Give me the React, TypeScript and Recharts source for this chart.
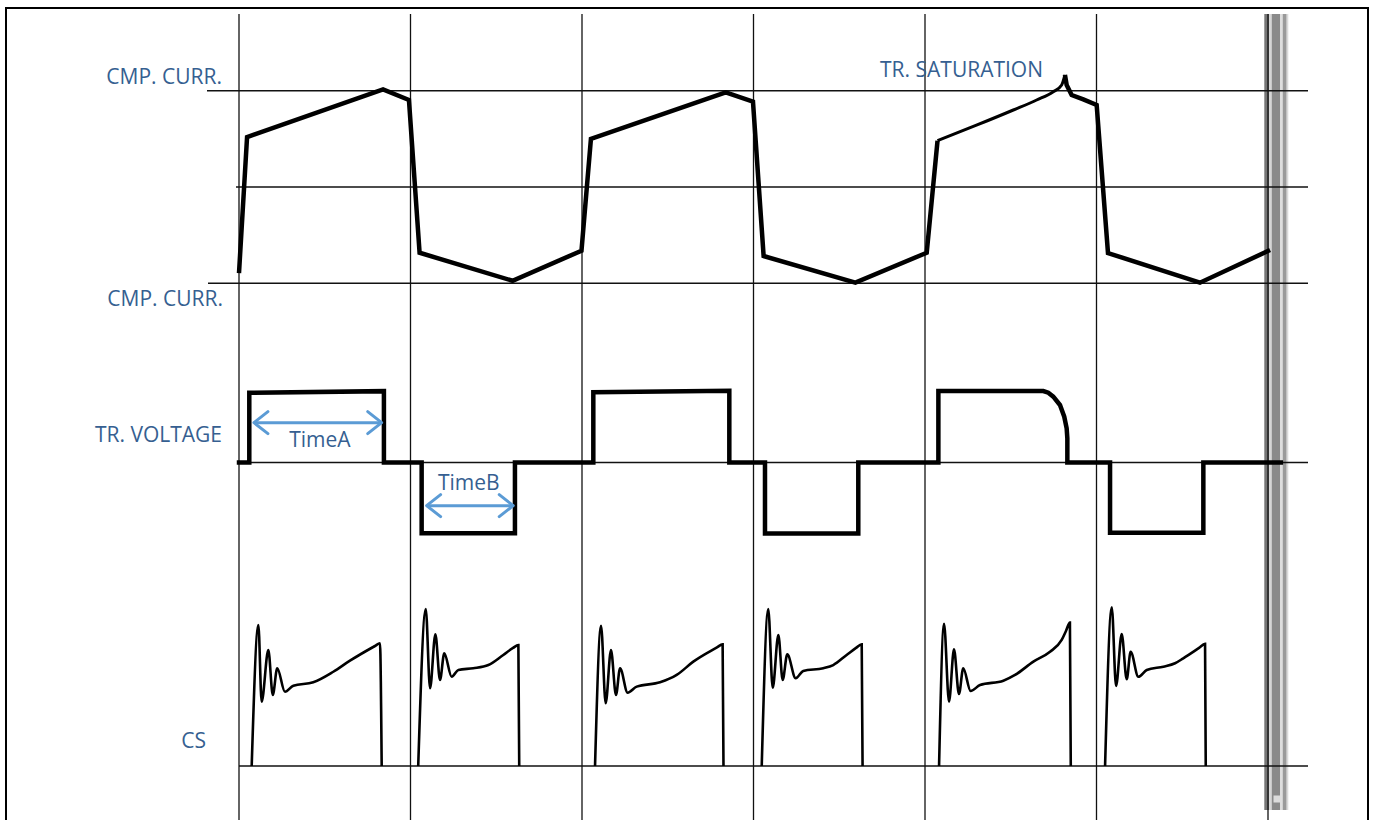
import {
  ComposedChart,
  Line,
  XAxis,
  YAxis,
  ReferenceLine,
  ReferenceArea,
  ReferenceDot,
} from 'recharts';

// x unit: one grid column = one half period of the inverter
const gridTimes = [0, 1, 2, 3, 4, 5, 6];

// compressor current, normalised (+1 / -1 are the upper and lower guides)
const currentMain = [
  { t: 0, v: -0.894 },
  { t: 0.047, v: 0.519 },
  { t: 0.84, v: 1.015 },
  { t: 0.991, v: 0.904 },
  { t: 1.053, v: -0.683 },
  { t: 1.595, v: -0.974 },
  { t: 1.997, v: -0.662 },
  { t: 2.052, v: 0.499 },
  { t: 2.838, v: 0.984 },
  { t: 2.997, v: 0.886 },
  { t: 3.059, v: -0.717 },
  { t: 3.594, v: -0.994 },
  { t: 4.01, v: -0.683 },
  { t: 4.073, v: 0.481 },
];
const currentSaturation = [
  { t: 4.073, v: 0.481 },
  { t: 4.3, v: 0.642 },
  { t: 4.515, v: 0.8 },
  { t: 4.651, v: 0.904 },
  { t: 4.748, v: 0.99 },
  { t: 4.797, v: 1.06 },
  { t: 4.816, v: 1.164 },
];
const currentTail = [
  { t: 4.816, v: 1.164 },
  { t: 4.826, v: 1.06 },
  { t: 4.855, v: 0.956 },
  { t: 4.923, v: 0.911 },
  { t: 5.001, v: 0.852 },
  { t: 5.067, v: -0.686 },
  { t: 5.603, v: -0.994 },
  { t: 6.012, v: -0.655 },
];

// transformer voltage, normalised
const trVoltage = [
  { t: -0.013, v: 0 },
  { t: 0.06, v: 0 },
  { t: 0.06, v: 0.983 },
  { t: 0.845, v: 1.005 },
  { t: 0.845, v: 0 },
  { t: 1.065, v: 0 },
  { t: 1.065, v: -0.997 },
  { t: 1.609, v: -0.997 },
  { t: 1.609, v: 0 },
  { t: 2.066, v: 0 },
  { t: 2.066, v: 0.989 },
  { t: 2.859, v: 1.011 },
  { t: 2.859, v: 0 },
  { t: 3.067, v: 0 },
  { t: 3.067, v: -1.0 },
  { t: 3.611, v: -1.0 },
  { t: 3.611, v: 0 },
  { t: 4.078, v: 0 },
  { t: 4.078, v: 1.007 },
  { t: 4.69, v: 1.007 },
  { t: 4.719, v: 0.983 },
  { t: 4.748, v: 0.927 },
  { t: 4.787, v: 0.81 },
  { t: 4.812, v: 0.645 },
  { t: 4.826, v: 0.481 },
  { t: 4.83, v: 0.34 },
  { t: 4.83, v: 0 },
  { t: 5.079, v: 0 },
  { t: 5.079, v: -0.989 },
  { t: 5.623, v: -0.989 },
  { t: 5.623, v: 0 },
  { t: 6.088, v: 0 },
];

// current-sense pulses, one per half period
const csPulse1 = [
  { t: 0.074, v: 0 }, { t: 0.113, v: 8.81 }, { t: 0.132, v: 4.02 }, { t: 0.171, v: 7.25 },
  { t: 0.197, v: 4.44 }, { t: 0.223, v: 6.11 }, { t: 0.268, v: 4.64 }, { t: 0.317, v: 5.02 },
  { t: 0.433, v: 5.23 }, { t: 0.55, v: 5.89 }, { t: 0.647, v: 6.58 }, { t: 0.793, v: 7.5 },
  { t: 0.822, v: 7.67 }, { t: 0.832, v: 0 },
];
const csPulse2 = [
  { t: 1.045, v: 0 }, { t: 1.089, v: 9.81 }, { t: 1.114, v: 4.86 }, { t: 1.145, v: 8.23 },
  { t: 1.172, v: 5.38 }, { t: 1.197, v: 7.04 }, { t: 1.24, v: 5.58 }, { t: 1.279, v: 6.0 },
  { t: 1.366, v: 6.11 }, { t: 1.454, v: 6.31 }, { t: 1.541, v: 6.94 }, { t: 1.598, v: 7.38 },
  { t: 1.629, v: 7.56 }, { t: 1.634, v: 0 },
];
const csPulse3 = [
  { t: 2.076, v: 0 }, { t: 2.111, v: 8.77 }, { t: 2.138, v: 3.92 }, { t: 2.169, v: 7.25 },
  { t: 2.198, v: 4.44 }, { t: 2.222, v: 6.11 }, { t: 2.266, v: 4.58 }, { t: 2.319, v: 4.96 },
  { t: 2.455, v: 5.23 }, { t: 2.552, v: 5.69 }, { t: 2.649, v: 6.52 }, { t: 2.787, v: 7.41 },
  { t: 2.82, v: 7.61 }, { t: 2.825, v: 0 },
];
const csPulse4 = [
  { t: 3.048, v: 0 }, { t: 3.086, v: 9.81 }, { t: 3.112, v: 4.89 }, { t: 3.145, v: 8.19 },
  { t: 3.17, v: 5.38 }, { t: 3.197, v: 6.98 }, { t: 3.246, v: 5.48 }, { t: 3.29, v: 5.94 },
  { t: 3.407, v: 6.11 }, { t: 3.465, v: 6.31 }, { t: 3.543, v: 6.94 }, { t: 3.598, v: 7.38 },
  { t: 3.631, v: 7.61 }, { t: 3.636, v: 0 },
];
const csPulse5 = [
  { t: 4.082, v: 0 }, { t: 4.111, v: 8.88 }, { t: 4.14, v: 4.02 }, { t: 4.169, v: 7.29 },
  { t: 4.198, v: 4.5 }, { t: 4.223, v: 6.11 }, { t: 4.266, v: 4.69 }, { t: 4.321, v: 5.06 },
  { t: 4.457, v: 5.33 }, { t: 4.525, v: 5.69 }, { t: 4.632, v: 6.52 }, { t: 4.729, v: 7.14 },
  { t: 4.797, v: 7.88 }, { t: 4.822, v: 8.44 }, { t: 4.845, v: 8.96 }, { t: 4.85, v: 0 },
];
const csPulse6 = [
  { t: 5.05, v: 0 }, { t: 5.089, v: 9.92 }, { t: 5.114, v: 5.0 }, { t: 5.147, v: 8.25 },
  { t: 5.176, v: 5.42 }, { t: 5.199, v: 7.14 }, { t: 5.244, v: 5.58 }, { t: 5.293, v: 6.0 },
  { t: 5.39, v: 6.21 }, { t: 5.458, v: 6.42 }, { t: 5.506, v: 6.73 }, { t: 5.598, v: 7.38 },
  { t: 5.633, v: 7.63 }, { t: 5.637, v: 0 },
];
const csPulses = [csPulse1, csPulse2, csPulse3, csPulse4, csPulse5, csPulse6];

// TimeA / TimeB spans (voltage units)
const timeA = [{ t: 0.087, v: 0.561 }, { t: 0.832, v: 0.561 }];
const timeB = [{ t: 1.094, v: -0.608 }, { t: 1.599, v: -0.608 }];

// --- layout ---
const W = 1375;
const H = 820;
const X0 = 239; // px of t = 0
const COL = 171.5; // px per half period
const CUR_ZERO = 187;
const CUR_UNIT = 96.25;
const VOLT_ZERO = 462.5;
const VOLT_UNIT = 71;
const CS_ZERO = 766;
const CS_UNIT = 16;

const FONT = '"Open Sans", sans-serif';
const TEXT = '#365F91';
const ARROW = '#5B9BD5';
const GRID = '#111';

const tAt = (px: number) => (px - X0) / COL;
const curAt = (py: number) => (CUR_ZERO - py) / CUR_UNIT;
const dom = (zero: number, unit: number): [number, number] => [(zero - H) / unit, zero / unit];

const xDomain: [number, number] = [tAt(0), tAt(W)];

const hGuides = [
  { axis: 'cur', v: 1, from: 207 },
  { axis: 'cur', v: 0, from: 236 },
  { axis: 'cur', v: -1, from: 208 },
  { axis: 'volt', v: 0, from: 237 },
  { axis: 'cs', v: 0, from: 239 },
];
const GUIDE_END = 1308;

const scrollBand = [
  { from: 1264.3, to: 1269.3, fill: '#767676' },
  { from: 1269.3, to: 1271.7, fill: '#d6d6d6' },
  { from: 1271.7, to: 1280, fill: '#8a8a8a' },
  { from: 1280, to: 1282.7, fill: '#dedede' },
  { from: 1282.7, to: 1286.7, fill: '#9a9a9a' },
  { from: 1286.7, to: 1288.3, fill: '#dadada' },
];

const labels = [
  { text: 'CMP. CURR.', axis: 'cur', t: -0.099, v: 1.143, pos: 'left' },
  { text: 'CMP. CURR.', axis: 'cur', t: -0.093, v: -1.156, pos: 'left' },
  { text: 'TR. VOLTAGE', axis: 'volt', t: -0.099, v: 0.394, pos: 'left' },
  { text: 'CS', axis: 'cs', t: -0.192, v: 1.56, pos: 'left' },
  { text: 'TR. SATURATION', axis: 'cur', t: 4.213, v: 1.219, pos: 'center' },
  { text: 'TimeA', axis: 'volt', t: 0.472, v: 0.324, pos: 'center' },
  { text: 'TimeB', axis: 'volt', t: 1.34, v: -0.282, pos: 'center' },
];

export default function App() {
  return (
    <div
      style={{
        position: 'absolute',
        left: 0,
        top: 0,
        width: W,
        height: H,
        overflow: 'hidden',
        background: '#fff',
        fontFamily: FONT,
      }}
    >
      <div
        style={{
          position: 'absolute',
          left: 5,
          top: 7,
          width: 1360,
          height: 840,
          border: '2px solid #000',
        }}
      />
      <div style={{ position: 'absolute', left: 0, top: 0 }}>
        <ComposedChart width={W} height={H} margin={{ top: 0, right: 0, bottom: 0, left: 0 }}>
          <defs>
            <marker
              id="chev"
              viewBox="0 0 20 28"
              refX="17"
              refY="14"
              markerWidth="20"
              markerHeight="28"
              markerUnits="userSpaceOnUse"
              orient="auto-start-reverse"
            >
              <path
                d="M3 3 L17 14 L3 25"
                fill="none"
                stroke={ARROW}
                strokeWidth={3}
                strokeLinecap="round"
                strokeLinejoin="round"
              />
            </marker>
          </defs>
          <XAxis type="number" dataKey="t" domain={xDomain} allowDataOverflow hide />
          <YAxis yAxisId="cur" type="number" domain={dom(CUR_ZERO, CUR_UNIT)} allowDataOverflow hide />
          <YAxis yAxisId="volt" type="number" domain={dom(VOLT_ZERO, VOLT_UNIT)} allowDataOverflow hide />
          <YAxis yAxisId="cs" type="number" domain={dom(CS_ZERO, CS_UNIT)} allowDataOverflow hide />

          {scrollBand.map((b, i) => (
            <ReferenceArea
              key={`band${i}`}
              yAxisId="cur"
              x1={tAt(b.from)}
              x2={tAt(b.to)}
              y1={curAt(810)}
              y2={curAt(14)}
              fill={b.fill}
              fillOpacity={1}
              stroke="none"
              ifOverflow="visible"
            />
          ))}
          <ReferenceArea
            yAxisId="cur"
            x1={tAt(1273.5)}
            x2={tAt(1280)}
            y1={curAt(802.5)}
            y2={curAt(795.5)}
            fill="#dcdcdc"
            fillOpacity={1}
            stroke="none"
            ifOverflow="visible"
          />

          {gridTimes.map((t) => (
            <ReferenceLine
              key={`vg${t}`}
              yAxisId="cur"
              segment={[
                { x: t, y: curAt(14) },
                { x: t, y: curAt(H) },
              ]}
              stroke={GRID}
              strokeWidth={1.3}
              ifOverflow="visible"
            />
          ))}
          {hGuides.map((g, i) => (
            <ReferenceLine
              key={`hg${i}`}
              yAxisId={g.axis}
              segment={[
                { x: tAt(g.from), y: g.v },
                { x: tAt(GUIDE_END), y: g.v },
              ]}
              stroke={GRID}
              strokeWidth={1.3}
              ifOverflow="visible"
            />
          ))}

          <Line data={currentMain} dataKey="v" yAxisId="cur" type="linear" stroke="#000" strokeWidth={4.5}
            dot={false} activeDot={false} isAnimationActive={false} />
          <Line data={currentSaturation} dataKey="v" yAxisId="cur" type="monotone" stroke="#000" strokeWidth={3}
            dot={false} activeDot={false} isAnimationActive={false} />
          <Line data={currentTail} dataKey="v" yAxisId="cur" type="linear" stroke="#000" strokeWidth={4.5}
            dot={false} activeDot={false} isAnimationActive={false} />

          <Line data={trVoltage} dataKey="v" yAxisId="volt" type="linear" stroke="#000" strokeWidth={4.5}
            dot={false} activeDot={false} isAnimationActive={false} />

          {csPulses.map((p, i) => (
            <Line key={`cs${i}`} data={p} dataKey="v" yAxisId="cs" type="monotone" stroke="#000" strokeWidth={2.6}
              dot={false} activeDot={false} isAnimationActive={false} />
          ))}

          <Line data={timeA} dataKey="v" yAxisId="volt" type="linear" stroke={ARROW} strokeWidth={3}
            markerStart="url(#chev)" markerEnd="url(#chev)" dot={false} activeDot={false} isAnimationActive={false} />
          <Line data={timeB} dataKey="v" yAxisId="volt" type="linear" stroke={ARROW} strokeWidth={3}
            markerStart="url(#chev)" markerEnd="url(#chev)" dot={false} activeDot={false} isAnimationActive={false} />

          {labels.map((l, i) => (
            <ReferenceDot
              key={`lb${i}`}
              yAxisId={l.axis}
              x={l.t}
              y={l.v}
              r={0}
              fill="none"
              stroke="none"
              ifOverflow="visible"
              label={{
                value: l.text,
                position: l.pos,
                offset: 0,
                fill: TEXT,
                fontSize: 21,
                fontFamily: FONT,
              }}
            />
          ))}
        </ComposedChart>
      </div>
    </div>
  );
}
